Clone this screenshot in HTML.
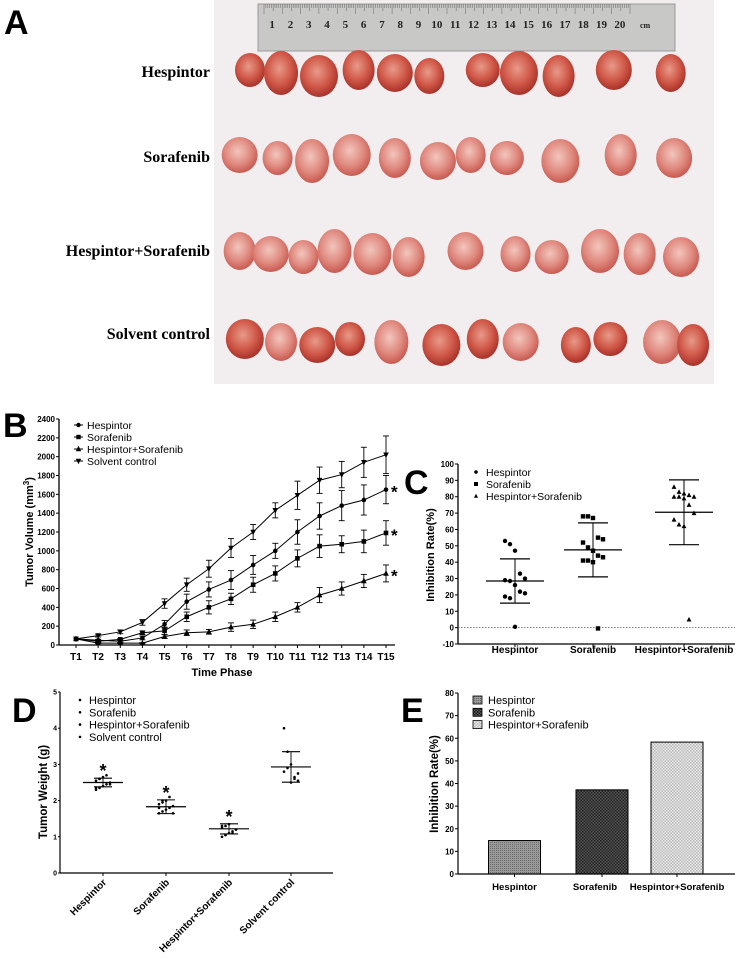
<!DOCTYPE html>
<html><head><meta charset="utf-8"><style>
html,body{margin:0;padding:0;background:#fff;}
svg{display:block;font-family:"Liberation Sans",Arial,sans-serif;}
.ser{font-family:"Liberation Serif","Times New Roman",serif;font-weight:bold;}
</style></head><body>
<svg id="fig" width="735" height="958" viewBox="0 0 735 958" xmlns="http://www.w3.org/2000/svg">
<defs>
<radialGradient id="tum" cx="45%" cy="40%" r="60%"><stop offset="0" stop-color="#e89a8a"/><stop offset="0.6" stop-color="#d05848"/><stop offset="1" stop-color="#a8322a"/></radialGradient>
<radialGradient id="tumL" cx="45%" cy="40%" r="60%"><stop offset="0" stop-color="#f2c6bd"/><stop offset="0.6" stop-color="#e08a80"/><stop offset="1" stop-color="#c85a50"/></radialGradient>
<pattern id="patH" width="2" height="2" patternUnits="userSpaceOnUse"><rect width="2" height="2" fill="#9a9a9a"/><rect width="1" height="1" fill="#6a6a6a"/></pattern>
<pattern id="patS" width="3" height="3" patternUnits="userSpaceOnUse"><rect width="3" height="3" fill="#555"/><rect width="1.5" height="1.5" fill="#222"/><rect x="1.5" y="1.5" width="1.5" height="1.5" fill="#222"/></pattern>
<pattern id="patC" width="3" height="3" patternUnits="userSpaceOnUse"><rect width="3" height="3" fill="#e8e8e8"/><rect width="1.5" height="1.5" fill="#bbb"/><rect x="1.5" y="1.5" width="1.5" height="1.5" fill="#bbb"/></pattern>
</defs>

<!-- Panel A -->
<g>
<text x="4" y="34" font-size="34" font-weight="bold">A</text>
<rect x="214" y="0" width="500" height="384" fill="#f2eef0"/>
<rect x="258" y="4" width="417" height="47" fill="#c8c8c6" stroke="#999"/>
<g id="ruler-nums" class="ser" font-size="11" fill="#222"></g>
<g id="tumors"></g>
<text x="210" y="77" class="ser" font-size="16" text-anchor="end">Hespintor</text>
<text x="210" y="162" class="ser" font-size="16" text-anchor="end">Sorafenib</text>
<text x="210" y="256" class="ser" font-size="16" text-anchor="end">Hespintor+Sorafenib</text>
<text x="210" y="339" class="ser" font-size="16" text-anchor="end">Solvent control</text>
</g>

<g id="panelB"><text x="3" y="437" font-size="34" font-weight="bold">B</text></g>
<g id="panelC"><text x="404" y="494" font-size="34" font-weight="bold">C</text></g>
<g id="panelD"><text x="12" y="722" font-size="34" font-weight="bold">D</text></g>
<g id="panelE"><text x="401" y="722" font-size="34" font-weight="bold">E</text></g>
</svg>
<script>
var NS="http://www.w3.org/2000/svg";
function mk(parent,tag,attrs,txt){var e=document.createElementNS(NS,tag);for(var k in attrs)e.setAttribute(k,attrs[k]);if(txt!==undefined)e.textContent=txt;parent.appendChild(e);return e;}

// ===== Panel B data =====
var bTimes=["T1","T2","T3","T4","T5","T6","T7","T8","T9","T10","T11","T12","T13","T14","T15"];
var bSeriesNames=["Hespintor","Sorafenib","Hespintor+Sorafenib","Solvent control"];
var bHesp=[65,50,40,75,220,460,590,690,850,1000,1200,1370,1480,1540,1650];
var bSora=[65,40,60,130,150,300,400,490,640,760,920,1050,1070,1100,1190];
var bCombo=[65,20,20,20,90,130,140,190,220,300,400,530,600,680,760];
var bCtrl=[65,100,140,240,440,640,810,1030,1200,1430,1590,1750,1810,1940,2020];
var bHespErr=[0,10,15,20,40,80,80,100,100,80,130,140,160,160,150];
var bSoraErr=[0,10,10,20,40,50,70,60,80,80,90,120,90,120,130];
var bComboErr=[0,5,5,5,20,30,25,45,45,50,50,80,70,70,90];
var bCtrlErr=[0,15,20,30,50,70,90,100,80,80,150,140,140,160,200];
var bTicks=[0,200,400,600,800,1000,1200,1400,1600,1800,2000,2200,2400];

// ===== Panel C data =====
var cGroups=["Hespintor","Sorafenib","Hespintor+Sorafenib"];
var cHespPts=[53,51,47,33,30,29,28.5,26,22,21,19,18,0.5];
var cSoraPts=[68,68,67,55,54,52,49,47,44,43,41,41,40,-0.5];
var cComboPts=[86,83,82,81,80,80,80,79,75,70,66,63,62,5];
var cMeans=[28.5,47.5,70.5];
var cSD=[13.5,16.5,19.8];
var cTicks=[-10,0,10,20,30,40,50,60,70,80,90,100];

// ===== Panel D data =====
var dGroups=["Hespintor","Sorafenib","Hespintor+Sorafenib","Solvent control"];
var dHespPts=[2.3,2.35,2.4,2.45,2.5,2.55,2.6,2.65,2.7,2.45,2.35,2.6];
var dSoraPts=[1.65,1.7,1.75,1.8,1.85,1.9,1.95,2.0,2.1,1.65,1.8,2.0];
var dComboPts=[1.0,1.05,1.1,1.15,1.2,1.25,1.3,1.35,1.1,1.2,1.3,1.05];
var dCtrlPts=[4.0,3.35,2.5,2.65,2.75,2.8,2.9,3.0,2.6,2.55];
var dMeans=[2.5,1.83,1.22,2.93];
var dSD=[0.12,0.19,0.14,0.42];
var dTicks=[0,1,2,3,4,5];

// ===== Panel E data =====
var eGroups=["Hespintor","Sorafenib","Hespintor+Sorafenib"];
var eValues=[14.8,37.2,58.3];
var eTicks=[0,10,20,30,40,50,60,70,80];

// ===== Panel A decorations =====
(function(){
 var rn=document.getElementById('ruler-nums');
 for(var i=1;i<=20;i++){var x=258+(i-0.5)*18.3+5;var t=mk(rn,'text',{x:x,y:28,'text-anchor':'middle'},String(i));
 
 }
 var cm=mk(rn,'text',{x:640,y:28,'font-size':8},'cm');
 
 
 for(var j=0;j<=200;j++){var x2=264+j*1.83;var l=mk(rn,'line',{x1:x2,x2:x2,y1:4,y2:(j%10==0?14:(j%5==0?11:8)),stroke:'#666','stroke-width':0.5});
 
 }
 var rows=[[73,[145,235,345,460,565,665,820,925,1040,1200,1365],'tum'],
           [158,[115,225,325,440,565,690,785,890,1045,1220,1375],'tumL'],
           [254,[115,205,300,390,500,605,770,915,1020,1160,1275,1395],'tumL'],
           [342,[130,235,340,435,555,700,820,930,1090,1190,1340,1430],'tum']];
 var tg=document.getElementById('tumors');
 rows.forEach(function(r,ri){r[1].forEach(function(zx,k){var cx=200+zx/2.9;var rx=15+((k*7+ri*3)%5);var ry=17+((k*5+ri)%6);
  var e=mk(tg,'ellipse',{cx:cx,cy:r[0]+((k%3)-1)*3,rx:rx,ry:ry,fill:'url(#'+(k%3==1&&ri==3?'tumL':r[2])+')'});
  
  });});
})();

// ===== Panel B =====
(function(){
 var g=document.getElementById('panelB');
 var x0=59,y0=645,yTop=419;
 function bx(i){return 76+i*(386-76)/(bTimes.length-1);}
 function by(v){return y0-(v/2400)*(y0-yTop);}
 mk(g,'line',{x1:x0,y1:yTop,x2:x0,y2:y0,stroke:'#000','stroke-width':1.3});
 mk(g,'line',{x1:x0,y1:y0,x2:395,y2:y0,stroke:'#000','stroke-width':1.3});
 bTicks.forEach(function(t){var y=by(t);mk(g,'line',{x1:x0-3,x2:x0,y1:y,y2:y,stroke:'#000'});
  var lb=mk(g,'text',{x:x0-4,y:y+3,'font-size':8,'font-weight':'bold','text-anchor':'end'},String(t));
  
  });
 bTimes.forEach(function(t,i){var x=bx(i);mk(g,'line',{x1:x,x2:x,y1:y0,y2:y0+3,stroke:'#000'});
  var lb=mk(g,'text',{x:x,y:660,'font-size':10,'font-weight':'bold','text-anchor':'middle'},t);
  
  });
 var xt=mk(g,'text',{x:222,y:676,'font-size':11,'font-weight':'bold','text-anchor':'middle'},'Time Phase');
 
 
 var yt=mk(g,'text',{transform:'translate(33,532) rotate(-90)','font-size':11,'font-weight':'bold','text-anchor':'middle'});
 
 
 yt.innerHTML='Tumor Volume (mm<tspan dy="-4" font-size="8">3</tspan><tspan dy="4">)</tspan>';
 function marker(p,type,x,y,s){
  if(type==0)return mk(p,'circle',{cx:x,cy:y,r:s});
  if(type==1)return mk(p,'rect',{x:x-s,y:y-s,width:2*s,height:2*s});
  if(type==2)return mk(p,'path',{d:'M'+x+','+(y-s-1)+'L'+(x+s+0.5)+','+(y+s)+'L'+(x-s-0.5)+','+(y+s)+'Z'});
  return mk(p,'path',{d:'M'+x+','+(y+s+1)+'L'+(x+s+0.5)+','+(y-s)+'L'+(x-s-0.5)+','+(y-s)+'Z'});}
 var series=[bHesp,bSora,bCombo,bCtrl],errs=[bHespErr,bSoraErr,bComboErr,bCtrlErr];
 var names=['b-line-hespintor','b-line-sorafenib','b-line-combo','b-line-solvent'];
 series.forEach(function(s,si){
  var sg=mk(g,'g',{});
  
  
  var d=s.map(function(v,i){return (i?'L':'M')+bx(i)+','+by(v);}).join('');
  mk(sg,'path',{d:d,fill:'none',stroke:'#000','stroke-width':1});
  s.forEach(function(v,i){var x=bx(i),e=errs[si][i];
   if(e>0){mk(sg,'line',{x1:x,x2:x,y1:by(v-e),y2:by(v+e),stroke:'#000','stroke-width':0.9});
   [v-e,v+e].forEach(function(w){mk(sg,'line',{x1:x-3,x2:x+3,y1:by(w),y2:by(w),stroke:'#000','stroke-width':0.9});});}
   var m=marker(sg,si,x,by(v),2.3);
   
   });
 });
 [bHesp,bSora,bCombo].forEach(function(s){var st=mk(g,'text',{x:bx(14)+5,y:by(s[14])+8,'font-size':17,'font-weight':'bold'},'*');
  
  });
 bSeriesNames.forEach(function(n,i){var y=425+i*12;
  var lg=mk(g,'g',{});
  
  
  mk(lg,'line',{x1:74,x2:83,y1:y,y2:y,stroke:'#000'});marker(lg,i,78.5,y,2.2);
  mk(lg,'text',{x:87,y:y+4,'font-size':10.5},n);});
})();

// ===== Panel C =====
(function(){
 var g=document.getElementById('panelC');
 var x0=458,yTop=464,yBot=644;
 function cy(v){return yBot-(v+10)/110*(yBot-yTop);}
 var cx=[515,593,684];
 mk(g,'line',{x1:x0,y1:yTop,x2:x0,y2:yBot,stroke:'#000','stroke-width':1.3});
 mk(g,'line',{x1:x0,y1:yBot,x2:735,y2:yBot,stroke:'#000','stroke-width':1.3});
 mk(g,'line',{x1:x0,y1:cy(0),x2:735,y2:cy(0),stroke:'#555','stroke-width':0.8,'stroke-dasharray':'1.5,1.5'});
 cTicks.forEach(function(t){var y=cy(t);mk(g,'line',{x1:x0-3,x2:x0,y1:y,y2:y,stroke:'#000'});
  var lb=mk(g,'text',{x:x0-4,y:y+3,'font-size':8,'font-weight':'bold','text-anchor':'end'},String(t));
  
  });
 cGroups.forEach(function(n,i){mk(g,'line',{x1:cx[i],x2:cx[i],y1:yBot,y2:yBot+3,stroke:'#000'});
  var lb=mk(g,'text',{x:cx[i],y:653,'font-size':10,'font-weight':'bold','text-anchor':'middle'},n);
  
  });
 var yt=mk(g,'text',{transform:'translate(434,555) rotate(-90)','font-size':11,'font-weight':'bold','text-anchor':'middle'},'Inhibition Rate(%)');
 
 
 var pts=[cHespPts,cSoraPts,cComboPts];
 pts.forEach(function(arr,gi){
  var sg=mk(g,'g',{});
  
  
  var m=cMeans[gi],sd=cSD[gi],c=cx[gi];
  mk(sg,'line',{x1:c-29,x2:c+29,y1:cy(m),y2:cy(m),stroke:'#000','stroke-width':1.2});
  mk(sg,'line',{x1:c,x2:c,y1:cy(m-sd),y2:cy(m+sd),stroke:'#000','stroke-width':1});
  [m-sd,m+sd].forEach(function(w){mk(sg,'line',{x1:c-15,x2:c+15,y1:cy(w),y2:cy(w),stroke:'#000','stroke-width':1.2});});
  arr.forEach(function(v,k){var off=((k%5)-2)*5;var x=c+off,y=cy(v);var p;
   if(gi==0)p=mk(sg,'circle',{cx:x,cy:y,r:2.2});
   else if(gi==1)p=mk(sg,'rect',{x:x-2.2,y:y-2.2,width:4.4,height:4.4});
   else p=mk(sg,'path',{d:'M'+x+','+(y-2.6)+'L'+(x+2.4)+','+(y+2)+'L'+(x-2.4)+','+(y+2)+'Z'});
   
   });
 });
 cGroups.forEach(function(n,i){var y=472+i*12;
  var lg=mk(g,'g',{});
  
  
  if(i==0)mk(lg,'circle',{cx:476,cy:y,r:1.8});else if(i==1)mk(lg,'rect',{x:474,y:y-2,width:4,height:4});
  else mk(lg,'path',{d:'M476,'+(y-2.2)+'L478,'+(y+1.8)+'L474,'+(y+1.8)+'Z'});
  mk(lg,'text',{x:486,y:y+4,'font-size':10.5},n);});
})();

// ===== Panel D =====
(function(){
 var g=document.getElementById('panelD');
 var x0=60,y0=873,yTop=692;
 function dy(v){return y0-v/5*(y0-yTop);}
 var dx=[103,166,229,291];
 mk(g,'line',{x1:x0,y1:yTop,x2:x0,y2:y0,stroke:'#000','stroke-width':1.2});
 mk(g,'line',{x1:x0,y1:y0,x2:333,y2:y0,stroke:'#000','stroke-width':1.2});
 dTicks.forEach(function(t){var y=dy(t);mk(g,'line',{x1:x0-2,x2:x0,y1:y,y2:y,stroke:'#000'});
  var lb=mk(g,'text',{x:x0-3,y:y+2.5,'font-size':7,'font-weight':'bold','text-anchor':'end'},String(t));
  
  });
 dGroups.forEach(function(n,i){mk(g,'line',{x1:dx[i],x2:dx[i],y1:y0,y2:y0+3,stroke:'#000'});
  var lb=mk(g,'text',{transform:'translate('+(dx[i]+4)+',883) rotate(-45)','font-size':10,'font-weight':'bold','text-anchor':'end'},n);
  
  });
 var yt=mk(g,'text',{transform:'translate(47,792) rotate(-90)','font-size':11.5,'font-weight':'bold','text-anchor':'middle'},'Tumor Weight (g)');
 
 
 [dHespPts,dSoraPts,dComboPts,dCtrlPts].forEach(function(arr,gi){
  var sg=mk(g,'g',{});
  
  
  var m=dMeans[gi],sd=dSD[gi],c=dx[gi];
  mk(sg,'line',{x1:c-20,x2:c+20,y1:dy(m),y2:dy(m),stroke:'#000','stroke-width':1.2});
  mk(sg,'line',{x1:c,x2:c,y1:dy(m-sd),y2:dy(m+sd),stroke:'#000','stroke-width':0.9});
  [m-sd,m+sd].forEach(function(w){mk(sg,'line',{x1:c-9,x2:c+9,y1:dy(w),y2:dy(w),stroke:'#000','stroke-width':1.1});});
  arr.forEach(function(v,k){var p=mk(sg,'circle',{cx:c+((k%5)-2)*3.5,cy:dy(v),r:1.3});
   
   });
  if(gi<3){var st=mk(g,'text',{x:c,y:dy(m+sd)-1,'font-size':18,'font-weight':'bold','text-anchor':'middle'},'*');
   
   }
 });
 dGroups.forEach(function(n,i){var y=700+i*12.3;
  var lg=mk(g,'g',{});
  
  
  mk(lg,'circle',{cx:80,cy:y,r:1.3});
  mk(lg,'text',{x:89,y:y+4,'font-size':11},n);});
})();

// ===== Panel E =====
(function(){
 var g=document.getElementById('panelE');
 var x0=458,y0=874,yTop=693;
 function ey(v){return y0-v/80*(y0-yTop);}
 var ex=[514.5,602,677],bw=52;
 var fills=['url(#patH)','url(#patS)','url(#patC)'];
 eGroups.forEach(function(n,i){var b=mk(g,'rect',{x:ex[i]-bw/2,y:ey(eValues[i]),width:bw,height:y0-ey(eValues[i]),fill:fills[i],stroke:'#000','stroke-width':1});
  
  });
 mk(g,'line',{x1:x0,y1:yTop,x2:x0,y2:y0,stroke:'#000','stroke-width':1.2});
 mk(g,'line',{x1:x0,y1:y0,x2:735,y2:y0,stroke:'#000','stroke-width':1.2});
 eTicks.forEach(function(t){var y=ey(t);mk(g,'line',{x1:x0-3,x2:x0,y1:y,y2:y,stroke:'#000'});
  var lb=mk(g,'text',{x:x0-4,y:y+3,'font-size':8,'font-weight':'bold','text-anchor':'end'},String(t));
  
  });
 var labX=[514.5,595,677];
 eGroups.forEach(function(n,i){mk(g,'line',{x1:ex[i],x2:ex[i],y1:y0,y2:y0+3,stroke:'#000'});
  var lb=mk(g,'text',{x:labX[i],y:890,'font-size':9.6,'font-weight':'bold','text-anchor':'middle'},n);
  
  });
 var yt=mk(g,'text',{transform:'translate(438,784) rotate(-90)','font-size':11.5,'font-weight':'bold','text-anchor':'middle'},'Inhibition Rate(%)');
 
 
 eGroups.forEach(function(n,i){var y=700+i*12.3;
  var lg=mk(g,'g',{});
  
  
  mk(lg,'rect',{x:473,y:y-4,width:9,height:8,fill:fills[i],stroke:'#000','stroke-width':0.8});
  mk(lg,'text',{x:488,y:y+4,'font-size':11},n);});
})();
</script>
</body></html>
